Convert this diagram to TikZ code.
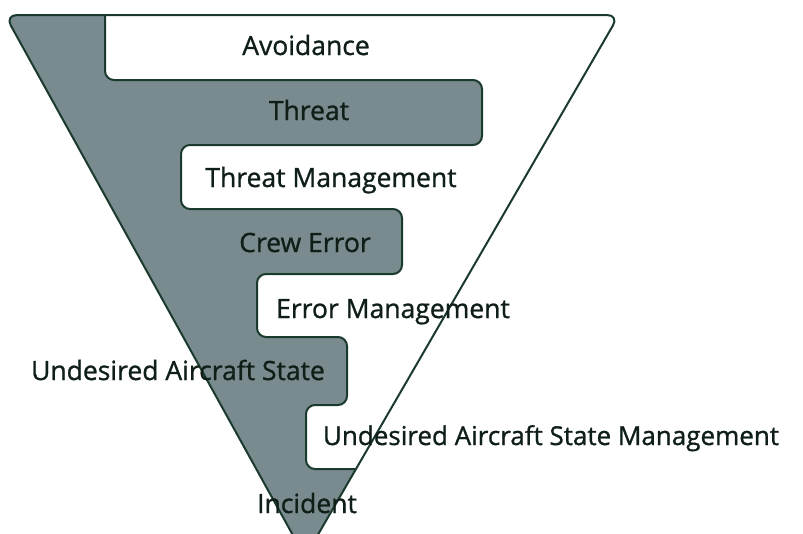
\documentclass[tikz,border=0pt]{standalone}
\usepackage{fontspec}
\setmainfont{Open Sans}
\newfontfamily\stagefont{Open Sans}[FakeBold=1]
\definecolor{funnelgray}{HTML}{7A8B8F}
\definecolor{edgegreen}{HTML}{1A3A2E}
\definecolor{labelink}{HTML}{0F1F17}
% outline of the inverted triangle, top corners rounded
\newcommand\funnelpath{[rounded corners=12pt] (5pt,-15pt) -- (619pt,-15pt) [sharp corners] -- (305pt,-557pt) [rounded corners=12pt] -- cycle}
\tikzset{
  lbl/.style={anchor=base, text=labelink, font=\stagefont\fontsize{26.5}{30}\selectfont, inner sep=0pt},
  edge/.style={draw=edgegreen, line width=2pt, line join=round},
}
\begin{document}
\begin{tikzpicture}[x=1pt,y=-1pt]
\useasboundingbox (0,0) rectangle (803,533);
\fill[white] (0,0) rectangle (803,533);
\fill[white] \funnelpath;
\begin{scope}
  \clip \funnelpath;
  % grey stages stepping down the left side of the funnel
  \path[fill=funnelgray, edge, rounded corners=9pt]
    (105,5) -- (105,80) -- (482,80) -- (482,145) -- (181,145) -- (181,209)
    -- (402,209) -- (402,274) -- (257,274) -- (257,337) -- (347,337)
    -- (347,405) -- (306,405) -- (306,469) -- (700,469) -- (700,600)
    -- (-50,600) -- (-50,5) -- cycle;
\end{scope}
\draw[edge] \funnelpath;
\node[lbl] (avoid) at (306,55) {Avoidance};
\node[lbl] (threat) at (309,120) {Threat};
\node[lbl] (tm) at (331,187) {Threat Management};
\node[lbl] (crew) at (305,252) {Crew Error};
\node[lbl] (em) at (393,318) {Error Management};
\node[lbl] (uas) at (178,380) {Undesired Aircraft State};
\node[lbl, font=\stagefont\fontsize{26}{30}\selectfont] (uasm) at (551,445) {Undesired Aircraft State Management};
\node[lbl] (inc) at (307,513) {Incident};
\end{tikzpicture}
\end{document}
